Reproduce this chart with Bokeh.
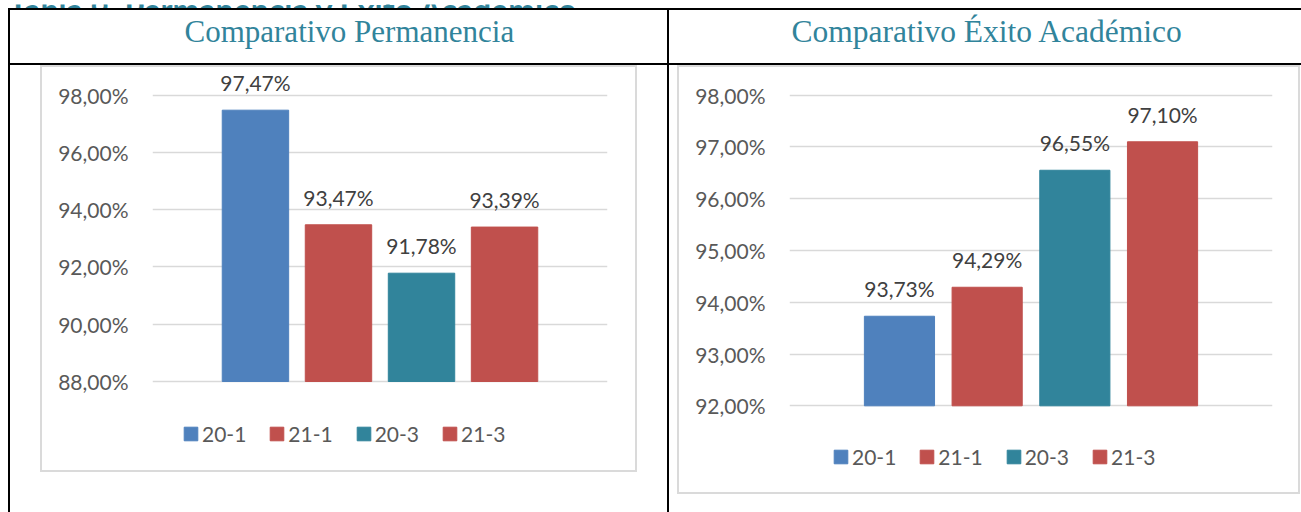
from bokeh.plotting import figure
from bokeh.models import (FactorRange, Range1d, FixedTicker, LabelSet, ColumnDataSource,
                          Label, Div, Spacer)
from bokeh.layouts import row, column
from bokeh.core.properties import value
from bokeh.embed import file_html
from bokeh.resources import INLINE

# ---------------- data ----------------
categories = ["20-1", "21-1", "20-3", "21-3"]
bar_colors = ["#4F81BD", "#C0504D", "#31849B", "#C0504D"]
perm_values = [97.47, 93.47, 91.78, 93.39]
exito_values = [93.73, 94.29, 96.55, 97.10]
perm_ticks = [88, 90, 92, 94, 96, 98]
exito_ticks = [92, 93, 94, 95, 96, 97, 98]
caption = "Tabla 9. Permanencia y Éxito Académico"
title_perm = "Comparativo Permanencia"
title_exito = "Comparativo Éxito Académico"

FONT = "Lato"
GRID = "#D9D9D9"
BOX = "#DADADA"
TEAL = "#31849B"


def pct(v):
    return f"{v:.2f}".replace(".", ",") + "%"


def bar_div(w, h, color="black"):
    return Div(text="", width=w, height=h, margin=0, styles={"background-color": color})


def blank(w, h):
    return Spacer(width=w, height=h, margin=0)


def text_strip(text, width, height, x, y, font, size, color, style="normal"):
    h = figure(width=width, height=height, x_range=Range1d(0, width), y_range=Range1d(height, 0),
               toolbar_location=None, output_backend="svg", min_border=0,
               x_axis_location=None, y_axis_location=None, margin=0)
    h.grid.visible = False
    h.outline_line_color = None
    h.add_layout(Label(x=x, y=y, text=text, text_align="left", text_baseline="alphabetic",
                       text_font=font, text_font_size=size, text_color=color,
                       text_font_style=style))
    return h


def chart(values, ticks, width, height, frame_lr, y_top_px, y_bot_px, pad, legend_loc):
    # y_top_px / y_bot_px: pixel distance of top / bottom tick from the figure top
    ymin, ymax = ticks[0], ticks[-1]
    scale = (y_bot_px - y_top_px) / (ymax - ymin)
    y_end = ymax + y_top_px / scale
    y_start = ymin - (height - y_bot_px) / scale
    src = ColumnDataSource(dict(cat=categories, val=values, color=bar_colors,
                                label=[pct(v) for v in values]))
    p = figure(width=width, height=height,
               x_range=FactorRange(factors=categories, range_padding=pad,
                                   range_padding_units="percent"),
               y_range=Range1d(y_start, y_end),
               toolbar_location=None, output_backend="svg", margin=0,
               min_border_left=frame_lr[0], min_border_right=frame_lr[1],
               min_border_top=0, min_border_bottom=0)
    p.outline_line_color = None
    p.background_fill_color = "white"
    p.border_fill_color = "white"
    p.vbar(x="cat", top="val", bottom=ymin, width=0.8, color="color", source=src,
           legend_field="cat")
    p.xaxis.visible = False
    p.xgrid.grid_line_color = None
    p.ygrid.grid_line_color = GRID
    p.ygrid.grid_line_width = 1.5
    p.ygrid.level = "underlay"
    ax = p.yaxis[0]
    ax.ticker = FixedTicker(ticks=ticks)
    ax.major_label_overrides = {t: pct(t) for t in ticks}
    ax.axis_line_color = None
    ax.major_tick_line_color = None
    ax.minor_tick_line_color = None
    ax.major_tick_out = 0
    ax.major_tick_in = 0
    ax.major_label_standoff = 24
    ax.major_label_text_font = FONT
    ax.major_label_text_font_size = "21px"
    ax.major_label_text_color = "#595959"
    p.add_layout(LabelSet(x="cat", y="val", text="label", source=src, text_align="center",
                          text_baseline="alphabetic", y_offset=19, text_font=value(FONT),
                          text_font_size="21px", text_color="#404040"))
    lg = p.legend[0]
    lg.location = legend_loc
    lg.orientation = "horizontal"
    lg.glyph_width = 17
    lg.glyph_height = 17
    lg.label_standoff = 3
    lg.spacing = 22
    lg.padding = 0
    lg.margin = 0
    lg.border_line_color = None
    lg.background_fill_alpha = 0
    lg.label_text_font = FONT
    lg.label_text_font_size = "21px"
    lg.label_text_color = "#595959"
    return p


def boxed(fig, w, h):
    # light grey frame around a chart (2px each side)
    return column(bar_div(w, 2, BOX),
                  row(bar_div(2, h - 4, BOX), fig, bar_div(2, h - 4, BOX), spacing=0),
                  bar_div(w, 2, BOX), spacing=0)


LW, RW = 657, 632
HEAD_H, BODY_H = 53, 447

top = text_strip(caption, 1301, 8, 8, 5, "Lato", "32px", TEAL, "bold")
hL = text_strip(title_perm, LW, HEAD_H, 174, 21, "Liberation Serif", "31px", TEAL)
hR = text_strip(title_exito, RW, HEAD_H, 122, 21, "Liberation Serif", "31.5px", TEAL)

# left chart: box 597x407 at cell offset (30,0); figure inside is 593x403
cL = chart(perm_values, perm_ticks, 593, 403, (110, 28), 27.5, 314, 0.37, (30, 24))
bodyL = column(row(blank(30, 407), boxed(cL, 597, 407), blank(30, 407), spacing=0),
               blank(LW, BODY_H - 407), spacing=0)

# right chart: box 623x429 at cell offset (8,0); figure inside is 619x425
cR = chart(exito_values, exito_ticks, 619, 425, (110, 26), 27.7, 338.3, 0.377, (43, 23))
bodyR = column(row(blank(8, 429), boxed(cR, 623, 429), blank(1, 429), spacing=0),
               blank(RW, BODY_H - 429), spacing=0)

left_col = column(hL, bar_div(LW, 2), bodyL, spacing=0)
right_col = column(hR, bar_div(RW, 2), bodyR, spacing=0)
table = column(bar_div(1293, 2),
               row(bar_div(2, 502), left_col, bar_div(2, 502), right_col, spacing=0),
               spacing=0)
layout = column(top, row(blank(8, 504), table, spacing=0), spacing=0)

open("out.html", "w").write(file_html(layout, INLINE))
